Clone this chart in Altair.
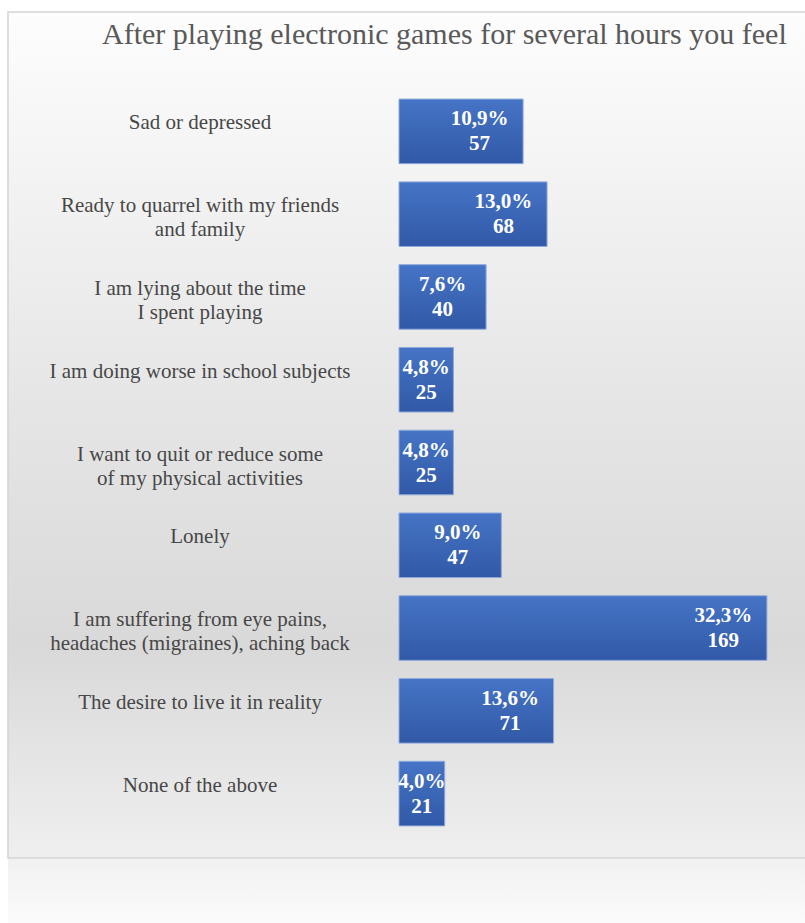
import altair as alt
import pandas as pd

title_text = "After playing electronic games for several hours you feel"
categories = [
    "Sad or depressed",
    "Ready to quarrel with my friends\nand family",
    "I am lying about the time\nI spent playing",
    "I am doing worse in school subjects",
    "I want to quit or reduce some\nof my physical activities",
    "Lonely",
    "I am suffering from eye pains,\nheadaches (migraines), aching back",
    "The desire to live it in reality",
    "None of the above",
]
counts = [57, 68, 40, 25, 25, 47, 169, 71, 21]
percents = ["10,9%", "13,0%", "7,6%", "4,8%", "4,8%", "9,0%", "32,3%", "13,6%", "4,0%"]

df = pd.DataFrame({"category": categories, "count": counts, "pct": percents})

W, H = 406, 745
SERIF = "Liberation Serif"

x_scale = alt.Scale(domain=[0, 186.5], nice=False, zero=True)
y_scale = alt.Scale(domain=categories, paddingInner=0.22, paddingOuter=0.11)

one = alt.Data(values=[{"k": 1}])

panel = alt.Chart(one).mark_rect(
    color=alt.Gradient(
        gradient="linear",
        stops=[
            alt.GradientStop(color="#fdfdfd", offset=0),
            alt.GradientStop(color="#e6e6e6", offset=0.45),
            alt.GradientStop(color="#d9d9d9", offset=0.75),
            alt.GradientStop(color="#efefef", offset=1),
        ],
        x1=0, x2=0, y1=0, y2=1,
    ),
    stroke="#d4d4d4",
    strokeWidth=1.5,
).encode(x=alt.value(-391), x2=alt.value(430), y=alt.value(-78), y2=alt.value(768))

below = alt.Chart(one).mark_rect(
    color=alt.Gradient(
        gradient="linear",
        stops=[
            alt.GradientStop(color="#f1f1f1", offset=0),
            alt.GradientStop(color="#fbfbfb", offset=1),
        ],
        x1=0, x2=0, y1=0, y2=1,
    ),
).encode(x=alt.value(-391), x2=alt.value(430), y=alt.value(769), y2=alt.value(833))

title = alt.Chart(one).mark_text(
    text=title_text, font=SERIF, fontSize=30, color="#595959",
    align="left", baseline="alphabetic",
).encode(x=alt.value(-297), y=alt.value(-46))

base = alt.Chart(df)

labels = base.mark_text(
    font=SERIF, fontSize=21, color="#474747", align="center",
    baseline="middle", lineBreak="\n", lineHeight=24, dy=-8,
).encode(
    x=alt.value(-199),
    y=alt.Y("category:N", scale=y_scale, axis=None),
    text="category:N",
)

bars = base.mark_bar(
    color=alt.Gradient(
        gradient="linear",
        stops=[
            alt.GradientStop(color="#4674c6", offset=0),
            alt.GradientStop(color="#3159a7", offset=1),
        ],
        x1=0, x2=0, y1=0, y2=1,
    ),
    stroke="#8ea9db",
    strokeWidth=1,
).encode(
    x=alt.X("count:Q", scale=x_scale, axis=None),
    y=alt.Y("category:N", scale=y_scale, axis=None),
)

lab = base.transform_calculate(
    pos="max(datum.count - 20, datum.count * 0.5)"
)

pct_text = lab.mark_text(
    font=SERIF, fontSize=21, fontWeight="bold", color="white",
    align="center", baseline="middle", dy=-12,
).encode(
    x=alt.X("pos:Q", scale=x_scale, axis=None),
    y=alt.Y("category:N", scale=y_scale, axis=None),
    text="pct:N",
)

cnt_text = lab.mark_text(
    font=SERIF, fontSize=21, fontWeight="bold", color="white",
    align="center", baseline="middle", dy=13,
).encode(
    x=alt.X("pos:Q", scale=x_scale, axis=None),
    y=alt.Y("category:N", scale=y_scale, axis=None),
    text="count:Q",
)

chart = alt.layer(panel, below, title, labels, bars, pct_text, cnt_text).properties(
    width=W,
    height=H,
    autosize=alt.AutoSizeParams(type="none"),
    padding={"left": 399, "top": 90, "right": 0, "bottom": 88},
    background="white",
).configure_view(stroke=None)

chart.save("out.html", embed_options={"renderer": "svg", "actions": False})
